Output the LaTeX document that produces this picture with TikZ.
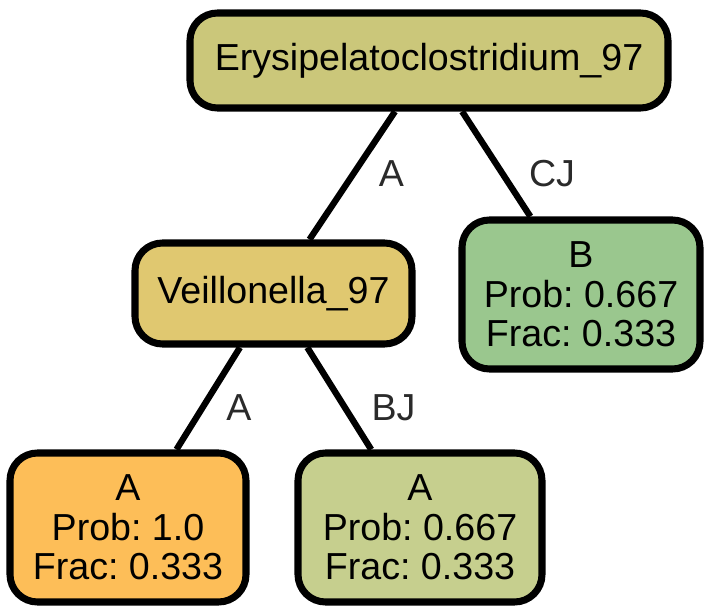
\documentclass[tikz,border=0pt]{standalone}
\usepackage{fontspec}
\setmainfont{Liberation Sans}
\frenchspacing

\definecolor{rootfill}{HTML}{CBC77A}
\definecolor{veilfill}{HTML}{E0C870}
\definecolor{bfill}{HTML}{9AC78E}
\definecolor{aonefill}{HTML}{FDBE58}
\definecolor{atwofill}{HTML}{C6CF8E}
\definecolor{labelgray}{HTML}{2A2A2A}

\begin{document}
\begin{tikzpicture}[
    font=\fontsize{21.4}{22.4}\selectfont,
    box/.style={rectangle, draw=black, line width=4pt, rounded corners=0.55cm, align=center, inner sep=0pt},
    split/.style={box, minimum height=1.9cm},
    leaf/.style={box, minimum height=2.98cm},
    edge/.style={draw=black, line width=3.6pt},
    elabel/.style={text=labelgray, inner sep=0pt}
]
    \useasboundingbox (0,0) rectangle (14.26,12.26);

    % 1. Root split
    \node[split, fill=rootfill, minimum width=9.56cm] (root) at (8.58, 11.05) {Erysipelatoclostridium\_97};

    % 2. Second level
    \node[split, fill=veilfill, minimum width=5.54cm, minimum height=2.02cm] (veil) at (5.47, 6.39) {Veillonella\_97};
    \node[leaf, fill=bfill, minimum width=4.76cm] (leafb) at (11.62, 6.37) {B\\Prob: 0.667\\Frac: 0.333};

    % 3. Leaves under Veillonella
    \node[leaf, fill=aonefill, minimum width=4.72cm] (leafa) at (2.56, 1.71) {A\\Prob: 1.0\\Frac: 0.333};
    \node[leaf, fill=atwofill, minimum width=4.88cm] (leafc) at (8.40, 1.71) {A\\Prob: 0.667\\Frac: 0.333};

    % Edges
    \draw[edge] (root) -- (veil);
    \draw[edge] (root) -- (leafb);
    \draw[edge] (veil) -- (leafa);
    \draw[edge] (veil) -- (leafc);

    % Edge labels
    \node[elabel] (la) at (7.83, 8.78) {A};
    \node[elabel] (lcj) at (11.04, 8.78) {CJ};
    \node[elabel] (lb) at (4.78, 4.11) {A};
    \node[elabel] (lbj) at (7.87, 4.11) {BJ};

\end{tikzpicture}
\end{document}
